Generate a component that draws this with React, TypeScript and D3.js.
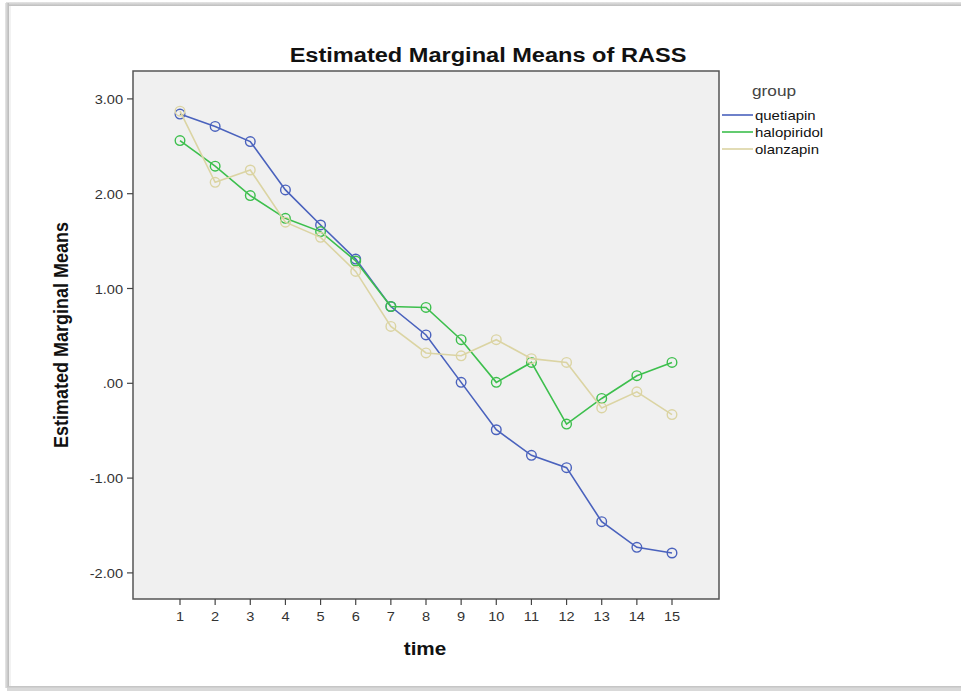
import React from "react";
import * as d3 from "d3";

const times = [1, 2, 3, 4, 5, 6, 7, 8, 9, 10, 11, 12, 13, 14, 15];
const quetiapin = [2.84, 2.71, 2.55, 2.04, 1.67, 1.31, 0.81, 0.51, 0.01, -0.49, -0.76, -0.89, -1.46, -1.73, -1.79];
const halopiridol = [2.56, 2.29, 1.98, 1.74, 1.6, 1.29, 0.81, 0.8, 0.46, 0.01, 0.22, -0.43, -0.16, 0.08, 0.22];
const olanzapin = [2.87, 2.12, 2.25, 1.7, 1.54, 1.18, 0.6, 0.32, 0.29, 0.46, 0.26, 0.22, -0.26, -0.09, -0.33];
const yTicks = [3, 2, 1, 0, -1, -2];

const series = [
  { name: "quetiapin", values: quetiapin, color: "#4a62bd" },
  { name: "halopiridol", values: halopiridol, color: "#3dbf4d" },
  { name: "olanzapin", values: olanzapin, color: "#dbd4a3" },
];

const W = 961;
const H = 694;
const plot = { left: 133, right: 719, top: 71, bottom: 599 };

const x = d3.scaleLinear().domain([1, 15]).range([180, 672]);
const y = d3.scaleLinear().domain([0, 3]).range([383.3, 98.9]);

// SPSS style: no leading zero, hyphen minus
const fmt = (v: number) => {
  if (v === 0) return ".00";
  return v.toFixed(2);
};

// the reference is a bit stretched sideways, so text gets a horizontal scale
function T(props: {
  x: number;
  y: number;
  sx?: number;
  size: number;
  anchor?: string;
  bold?: boolean;
  fill?: string;
  children: React.ReactNode;
}) {
  const { x, y, sx = 1.15, size, anchor = "start", bold, fill = "#111", children } = props;
  return (
    <text
      transform={`translate(${x},${y}) scale(${sx},1)`}
      textAnchor={anchor}
      fontSize={size}
      fontWeight={bold ? "bold" : "normal"}
      fill={fill}
    >
      {children}
    </text>
  );
}

export default function App() {
  const line = d3
    .line<number>()
    .x((_, i) => x(times[i]))
    .y((d) => y(d));

  return (
    <svg
      width={W}
      height={H}
      style={{ position: "absolute", left: 0, top: 0, fontFamily: "Arial, 'Liberation Sans', sans-serif" }}
    >
      <defs>
        <linearGradient id="topShade" x1="0" y1="0" x2="0" y2="1">
          <stop offset="0" stopColor="#e6e6e6" />
          <stop offset="1" stopColor="#bdbdbd" />
        </linearGradient>
        <linearGradient id="leftShade" x1="0" y1="0" x2="1" y2="0">
          <stop offset="0" stopColor="#e8e8e8" />
          <stop offset="1" stopColor="#b8b8b8" />
        </linearGradient>
      </defs>
      <rect x={0} y={0} width={W} height={H} fill="#ffffff" />
      {/* page frame */}
      <rect x={6} y={2} width={W - 6} height={4} fill="url(#topShade)" />
      <rect x={5} y={3} width={4} height={H - 9} fill="url(#leftShade)" />
      <rect x={9} y={6} width={2} height={H - 12} fill="#f2f2f2" />
      <rect x={7} y={686} width={W - 7} height={5} fill="#d9d9d9" />
      <rect x={7} y={686} width={W - 7} height={1.5} fill="#c6c6c6" />

      <T x={488} y={62} size={20.5} anchor="middle" bold>
        Estimated Marginal Means of RASS
      </T>

      <rect
        x={plot.left}
        y={plot.top}
        width={plot.right - plot.left}
        height={plot.bottom - plot.top}
        fill="#f0f0f0"
        stroke="#555"
        strokeWidth={1.5}
      />

      {/* y axis */}
      {yTicks.map((t) => (
        <g key={t}>
          <line x1={127} x2={plot.left} y1={y(t)} y2={y(t)} stroke="#444" strokeWidth={1.2} />
          <T x={123} y={y(t) + 5} size={13.5} sx={1.08} anchor="end" fill="#333">
            {fmt(t)}
          </T>
        </g>
      ))}
      <text
        transform={`translate(68,335) rotate(-90) scale(1,1.12)`}
        textAnchor="middle"
        fontSize={18}
        fontWeight="bold"
        fill="#111"
      >
        Estimated Marginal Means
      </text>

      {/* x axis */}
      {times.map((t) => (
        <g key={t}>
          <line x1={x(t)} x2={x(t)} y1={plot.bottom} y2={plot.bottom + 6} stroke="#444" strokeWidth={1.2} />
          <T x={x(t)} y={621} size={13.5} sx={1.08} anchor="middle" fill="#333">
            {t}
          </T>
        </g>
      ))}
      <T x={425} y={655} size={18} anchor="middle" bold>
        time
      </T>

      {/* series */}
      {series.map((s) => (
        <g key={s.name}>
          <path d={line(s.values) ?? ""} fill="none" stroke={s.color} strokeWidth={1.6} />
          {s.values.map((v, i) => (
            <circle
              key={i}
              cx={x(times[i])}
              cy={y(v)}
              r={4.8}
              fill="none"
              stroke={s.color}
              strokeWidth={1.4}
            />
          ))}
        </g>
      ))}

      {/* legend */}
      <T x={752} y={96} size={15} fill="#444">
        group
      </T>
      {series.map((s, i) => (
        <g key={s.name}>
          <line x1={722} x2={753} y1={115 + i * 17} y2={115 + i * 17} stroke={s.color} strokeWidth={1.6} />
          <T x={755} y={119.5 + i * 17} size={13} fill="#111">
            {s.name}
          </T>
        </g>
      ))}
    </svg>
  );
}
